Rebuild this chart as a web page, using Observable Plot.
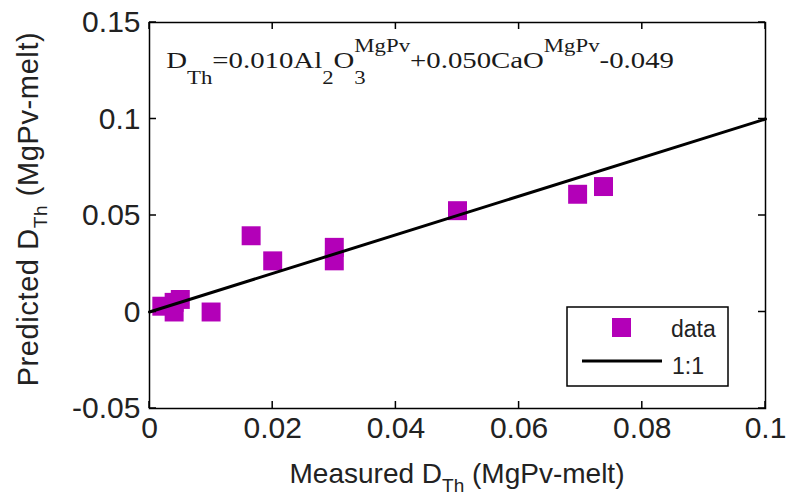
<!DOCTYPE html>
<html><head><meta charset="utf-8">
<script src="https://cdn.jsdelivr.net/npm/d3@7"></script>
<script src="https://cdn.jsdelivr.net/npm/@observablehq/plot@0.6"></script>
<style>body{margin:0;background:#fff;} svg{display:block}</style>
</head><body><div id="chart"></div>
<script>
// ---- data ----
const measured  = [0.002, 0.004, 0.005, 0.004, 0.010, 0.0165, 0.020, 0.030, 0.030, 0.050, 0.0695, 0.0737];
const predicted = [0.003, 0.005, 0.0065, 0.000, 0.000, 0.0395, 0.0265, 0.0335, 0.0265, 0.0525, 0.061, 0.065];
const oneToOneX = [0, 0.1];
const oneToOneY = [0, 0.1];
const xTicks = [0, 0.02, 0.04, 0.06, 0.08, 0.1];
const yTicks = [-0.05, 0, 0.05, 0.1, 0.15];
const legendLabels = ["data", "1:1"];
const xLabelParts = ["Measured D", "Th", " (MgPv-melt)"];
const yLabelParts = ["Predicted D", "Th", " (MgPv-melt)"];
const equationAnchor = {x: 0.0028, y: 0.126};
const equationParts = [
  {t: "D", k: "main"}, {t: "Th", k: "sub"}, {t: "=0.010Al", k: "main"}, {t: "2", k: "sub"},
  {t: "O", k: "main"}, {t: "3", k: "sub"}, {t: "MgPv", k: "supBack"}, {t: "+0.050CaO", k: "main"},
  {t: "MgPv", k: "sup"}, {t: "-0.049", k: "main"}
];

const markerColor = "#b300b8";
const pts = measured.map((m, i) => ({m, p: predicted[i]}));
const lineData = oneToOneX.map((x, i) => ({x, y: oneToOneY[i]}));
const fmt = d => String(Math.round(d * 100) / 100);

function ticksMark(index, scales, values, dim) {
  const g = d3.create("svg:g").attr("stroke", "black").attr("stroke-width", 1.5);
  const L = dim.marginLeft, R = dim.width - dim.marginRight, T = dim.marginTop, B = dim.height - dim.marginBottom;
  const tl = 7;
  for (const t of xTicks) {
    const x = scales.x(t);
    g.append("line").attr("x1", x).attr("x2", x).attr("y1", B).attr("y2", B - tl);
    g.append("line").attr("x1", x).attr("x2", x).attr("y1", T).attr("y2", T + tl);
  }
  for (const t of yTicks) {
    const y = scales.y(t);
    g.append("line").attr("y1", y).attr("y2", y).attr("x1", L).attr("x2", L + tl);
    g.append("line").attr("y1", y).attr("y2", y).attr("x1", R).attr("x2", R - tl);
  }
  return g.node();
}

function labelsMark(index, scales, values, dim) {
  const g = d3.create("svg:g").attr("font-family", "'Liberation Sans', Arial, sans-serif").attr("fill", "#222");
  const cx = (dim.marginLeft + dim.width - dim.marginRight) / 2;
  const cy = (dim.marginTop + dim.height - dim.marginBottom) / 2 - 6;
  const xt = g.append("text").attr("x", cx).attr("y", dim.height - 13).attr("text-anchor", "middle").attr("font-size", 28);
  xt.append("tspan").text(xLabelParts[0]);
  xt.append("tspan").attr("font-size", 19).attr("dy", 9).text(xLabelParts[1]);
  xt.append("tspan").attr("dy", -9).text(xLabelParts[2]);
  const yt = g.append("text").attr("transform", `translate(38,${cy}) rotate(-90)`).attr("text-anchor", "middle")
    .attr("font-size", 29).attr("letter-spacing", 0.6);
  yt.append("tspan").text(yLabelParts[0]);
  yt.append("tspan").attr("font-size", 19).attr("dy", 9).text(yLabelParts[1]);
  yt.append("tspan").attr("dy", -9).text(yLabelParts[2]);
  return g.node();
}

function equationMark(index, scales, values, dim) {
  const x0 = scales.x(equationAnchor.x), y0 = scales.y(equationAnchor.y);
  const t = d3.create("svg:text")
    .attr("transform", `translate(${x0},${y0}) scale(1.2,1)`)
    .attr("text-anchor", "start")
    .attr("font-family", "'Liberation Serif', 'Times New Roman', serif")
    .attr("fill", "#1a1a1a");
  let base = 0;
  for (const p of equationParts) {
    let size = 24, target = 0, dx = 0;
    if (p.k === "sub") { size = 19; target = 16; }
    if (p.k === "sup") { size = 19; target = -16; }
    if (p.k === "supBack") { size = 19; target = -16; dx = -9.5; }
    const s = t.append("tspan").attr("font-size", size).attr("dy", target - base).text(p.t);
    if (dx) s.attr("dx", dx);
    base = target;
  }
  return t.node();
}

function legendMark(index, scales, values, dim) {
  const R = dim.width - dim.marginRight, B = dim.height - dim.marginBottom;
  const x1 = R - 198, x2 = R - 37, y1 = B - 101, y2 = B - 22;
  const g = d3.create("svg:g");
  g.append("rect").attr("x", x1).attr("y", y1).attr("width", x2 - x1).attr("height", y2 - y1)
    .attr("fill", "white").attr("stroke", "black").attr("stroke-width", 1.5);
  g.append("rect").attr("x", x1 + 45).attr("y", y1 + 11).attr("width", 19).attr("height", 19).attr("fill", markerColor);
  g.append("line").attr("x1", x1 + 15).attr("x2", x1 + 95).attr("y1", y1 + 54).attr("y2", y1 + 54)
    .attr("stroke", "black").attr("stroke-width", 3);
  const tg = g.append("g").attr("font-family", "'Liberation Sans', Arial, sans-serif").attr("font-size", 23)
    .attr("fill", "#222").attr("text-anchor", "start");
  tg.append("text").attr("x", x1 + 104).attr("y", y1 + 30).text(legendLabels[0]);
  tg.append("text").attr("x", x1 + 105).attr("y", y1 + 67).text(legendLabels[1]);
  return g.node();
}

const chart = Plot.plot({
  width: 792,
  height: 496,
  marginLeft: 149,
  marginRight: 27,
  marginTop: 22,
  marginBottom: 88,
  style: {fontFamily: "'Liberation Sans', Arial, sans-serif", fontSize: "30px", color: "#222", background: "white"},
  x: {domain: [0, 0.1]},
  y: {domain: [-0.05, 0.15]},
  marks: [
    Plot.axisX(xTicks, {tickSize: 0, tickPadding: 8, tickFormat: fmt, label: null}),
    Plot.axisY(yTicks, {tickSize: 0, tickPadding: 9, tickFormat: fmt, label: null}),
    Plot.dot(pts, {x: "m", y: "p", symbol: "square", r: 10.7, fill: markerColor, stroke: null}),
    Plot.line(lineData, {x: "x", y: "y", stroke: "black", strokeWidth: 3}),
    Plot.frame({stroke: "black", strokeWidth: 1.5}),
    ticksMark,
    equationMark,
    legendMark,
    labelsMark
  ]
});
document.getElementById("chart").appendChild(chart);
</script>
</body></html>
